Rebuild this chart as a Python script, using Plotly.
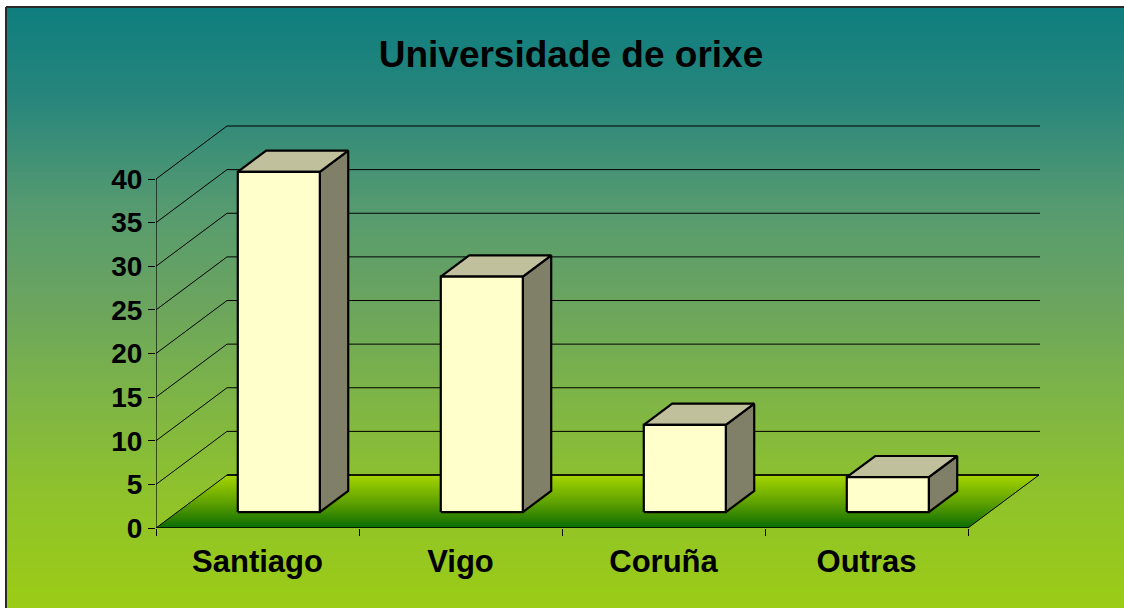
import plotly.graph_objects as go

# ---------------- data ----------------
categories = ["Santiago", "Vigo", "Coruña", "Outras"]
values = [39, 27, 10, 4]
y_ticks = [0, 5, 10, 15, 20, 25, 30, 35, 40]
title_text = "Universidade de orixe"

# ---------------- geometry (layout constants) ----------------
W, H = 1124, 608
PL, PRX, PT, PB = 156, 1040, 100, 528      # plot area in pixels
SLOT = 203.0                                # px per category
PXU = 8.725                                 # px per value unit
X0 = -0.5
X1 = X0 + (PRX - PL) / SLOT
Y1 = (PB - PT) / PXU
DX = 71 / SLOT                              # full depth offset (x, category units)
DY = 53 / PXU                               # full depth offset (y, value units)
F0, FD, HW = 0.30, 0.40, 0.202              # bar front depth, bar depth, half width
n = len(categories)
XE = X0 + n                                 # right end of front axis
FONT = "Liberation Sans, Arial, sans-serif"

FRONT_C = "#FFFFCC"
TOP_C = "#C0C09C"
SIDE_C = "#808068"

fig = go.Figure()

# ---------------- background gradient (paper shapes) ----------------
stops = [(7, (14, 126, 126)), (100, (40, 134, 124)), (205, (85, 154, 112)),
         (300, (106, 164, 95)), (400, (126, 181, 70)), (500, (144, 195, 42)),
         (608, (155, 204, 22))]


def col_at(py):
    for (a, ca), (b, cb) in zip(stops[:-1], stops[1:]):
        if a <= py <= b:
            t = (py - a) / (b - a)
            return "rgb(%d,%d,%d)" % tuple(round(ca[k] + t * (cb[k] - ca[k])) for k in range(3))
    return "rgb(%d,%d,%d)" % stops[-1][1]


def px2x(px):
    return (px - PL) / (PRX - PL)


def py2y(py):
    return (PB - py) / (PB - PT)


shapes = []
step = 3
py = 7
while py < H:
    shapes.append(dict(type="rect", xref="paper", yref="paper", layer="below",
                       x0=px2x(6), x1=px2x(W + 2), y0=py2y(py), y1=py2y(py + step + 1),
                       fillcolor=col_at(py + step / 2), line=dict(width=0)))
    py += step
# border
shapes.append(dict(type="line", xref="paper", yref="paper", layer="below",
                   x0=px2x(6), x1=px2x(W + 2), y0=py2y(7), y1=py2y(7),
                   line=dict(color="#2a2a2a", width=2)))
shapes.append(dict(type="line", xref="paper", yref="paper", layer="below",
                   x0=px2x(6), x1=px2x(6), y0=py2y(7), y1=py2y(H + 2),
                   line=dict(color="#2a2a2a", width=2)))

# ---------------- back wall gridlines & left wall diagonals ----------------
gx, gy, dxs, dys = [], [], [], []
for v in y_ticks[1:]:
    gx += [X0 + DX, X1, None]
    gy += [v + DY, v + DY, None]
    dxs += [X0, X0 + DX, None]
    dys += [v, v + DY, None]
fig.add_trace(go.Scatter(x=gx, y=gy, mode="lines", line=dict(color="black", width=1),
                         hoverinfo="skip", showlegend=False))
fig.add_trace(go.Scatter(x=dxs, y=dys, mode="lines", line=dict(color="black", width=1),
                         hoverinfo="skip", showlegend=False))

# ---------------- floor ----------------
fig.add_trace(go.Scatter(
    x=[X0, XE, XE + DX, X0 + DX, X0], y=[0, 0, DY, DY, 0],
    mode="lines", fill="toself",
    fillgradient=dict(type="vertical",
                      colorscale=[[0, "#0A6C00"], [0.45, "#5A9E00"], [1, "#A6D600"]]),
    line=dict(color="black", width=1), hoverinfo="skip", showlegend=False))
fig.add_trace(go.Scatter(x=[X0 + DX, XE + DX], y=[DY, DY], mode="lines",
                         line=dict(color="black", width=1.5), hoverinfo="skip", showlegend=False))

# ---------------- bars ----------------
for i, v in enumerate(values):
    x0 = i - HW + F0 * DX
    x1 = i + HW + F0 * DX
    y0 = F0 * DY
    y1 = v + F0 * DY
    ddx, ddy = FD * DX, FD * DY
    faces = [
        ([x1, x1 + ddx, x1 + ddx, x1, x1], [y0, y0 + ddy, y1 + ddy, y1, y0], SIDE_C),
        ([x0, x1, x1 + ddx, x0 + ddx, x0], [y1, y1, y1 + ddy, y1 + ddy, y1], TOP_C),
        ([x0, x1, x1, x0, x0], [y0, y0, y1, y1, y0], FRONT_C),
    ]
    for fx, fy, c in faces:
        fig.add_trace(go.Scatter(x=fx, y=fy, mode="lines", fill="toself", fillcolor=c,
                                 line=dict(color="black", width=2.2), hoverinfo="skip",
                                 showlegend=False))

# ---------------- front axis lines ----------------
fig.add_trace(go.Scatter(x=[X0, X0, None, X0, XE], y=[0, y_ticks[-1], None, 0, 0], mode="lines",
                         line=dict(color="black", width=1.2), hoverinfo="skip", showlegend=False))

fig.update_layout(
    width=W, height=H, autosize=False,
    margin=dict(l=PL, r=W - PRX, t=PT, b=H - PB, pad=0),
    paper_bgcolor="white", plot_bgcolor="rgba(0,0,0,0)",
    shapes=shapes,
    title=dict(text=title_text, x=571 / W, xref="container", xanchor="center",
               y=1 - 54 / H, yref="container", yanchor="middle",
               font=dict(family=FONT, size=37, color="black", weight="bold")),
    xaxis=dict(range=[X0, X1], showgrid=False, zeroline=False, showline=False,
               tickmode="array", tickvals=list(range(n)), ticktext=categories,
               ticks="", ticklabelstandoff=12,
               tickfont=dict(family=FONT, size=31, color="black", weight="bold"),
               minor=dict(tickmode="array", tickvals=[X0 + k for k in range(n + 1)],
                          ticks="outside", ticklen=7, tickcolor="black", tickwidth=1),
               fixedrange=True),
    yaxis=dict(range=[0, Y1], showgrid=False, zeroline=False, showline=False,
               tickmode="array", tickvals=y_ticks, ticks="outside", ticklen=7,
               tickcolor="black", tickwidth=1,
               tickfont=dict(family=FONT, size=28, color="black", weight="bold"),
               fixedrange=True),
    hovermode=False,
)

fig.write_html("out.html", config={"displayModeBar": False, "staticPlot": True},
               post_script="document.body.style.margin='0';document.body.style.overflow='hidden';")
